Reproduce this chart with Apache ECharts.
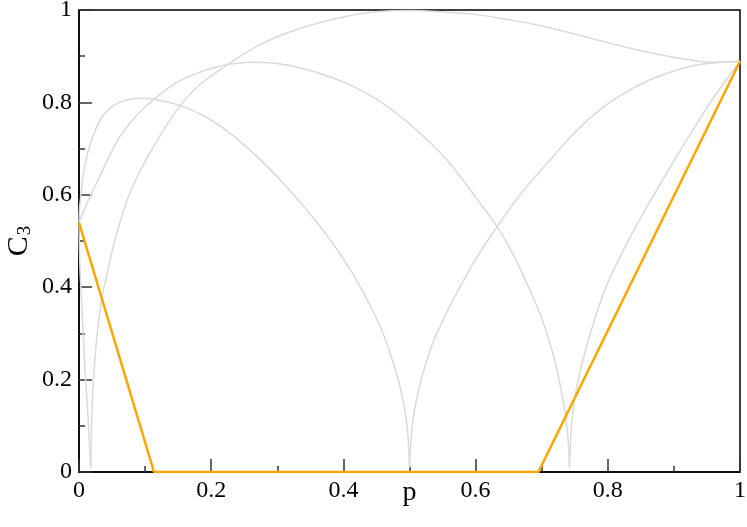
<!DOCTYPE html>
<html>
<head>
<meta charset="utf-8">
<script src="https://cdn.jsdelivr.net/npm/echarts@6/dist/echarts.min.js"></script>
<style>
  html, body { margin: 0; padding: 0; background: #fff; }
  #chart { width: 747px; height: 527px; }
</style>
</head>
<body>
<div id="chart"></div>
<script>
// values, [p, C3]
var curve1Left = [[0, 0.54], [0.001, 0.575], [0.003, 0.6], [0.0066, 0.645], [0.015, 0.70], [0.032, 0.762],
  [0.052, 0.793], [0.075, 0.806], [0.097, 0.809], [0.12, 0.805], [0.153, 0.793], [0.19, 0.77],
  [0.236, 0.725], [0.28, 0.668], [0.309, 0.625], [0.334, 0.585], [0.36, 0.54], [0.38, 0.503],
  [0.395, 0.472], [0.42, 0.415], [0.44, 0.362], [0.46, 0.30], [0.481, 0.21], [0.491, 0.15],
  [0.497, 0.09], [0.5, 0.01]]
var curve1Right = [[0.5, 0.01], [0.502, 0.068], [0.506, 0.12], [0.512, 0.165], [0.52, 0.212], [0.535, 0.278],
  [0.551, 0.33], [0.566, 0.373], [0.6, 0.46], [0.633, 0.532], [0.67, 0.605], [0.713, 0.676],
  [0.75, 0.735], [0.788, 0.784], [0.825, 0.82], [0.864, 0.849], [0.9, 0.868], [0.939, 0.882], [1, 0.889]]
var curve2Left = [[0, 0.54], [0.0015, 0.438], [0.004, 0.37], [0.009, 0.225], [0.014, 0.11], [0.0177, 0.01]]
var curve2Right = [[0.0177, 0.01], [0.02, 0.15], [0.022, 0.2], [0.027, 0.293], [0.035, 0.38], [0.044, 0.438],
  [0.054, 0.5], [0.072, 0.585], [0.09, 0.645], [0.107, 0.69], [0.13, 0.745], [0.153, 0.793],
  [0.18, 0.835], [0.218, 0.875], [0.274, 0.925], [0.334, 0.96], [0.4, 0.985], [0.45, 0.996],
  [0.5, 0.999], [0.55, 0.996], [0.602, 0.99], [0.65, 0.979], [0.702, 0.965], [0.75, 0.948],
  [0.798, 0.93], [0.84, 0.915], [0.879, 0.903], [0.92, 0.893], [0.96, 0.887], [1, 0.889]]
var curve3Left = [[0, 0.54], [0.01, 0.575], [0.029, 0.633], [0.059, 0.719], [0.08, 0.76], [0.1, 0.79],
  [0.125, 0.82], [0.15, 0.845], [0.18, 0.864], [0.218, 0.88], [0.264, 0.887], [0.3, 0.884],
  [0.334, 0.875], [0.37, 0.86], [0.41, 0.838], [0.45, 0.807], [0.486, 0.77], [0.52, 0.728],
  [0.56, 0.67], [0.6, 0.595], [0.633, 0.53], [0.66, 0.462], [0.69, 0.368], [0.702, 0.325],
  [0.72, 0.24], [0.733, 0.15], [0.738, 0.10], [0.741, 0.05], [0.742, 0.01]]
var curve3Right = [[0.742, 0.01], [0.745, 0.1], [0.75, 0.16], [0.76, 0.23], [0.78, 0.33], [0.8, 0.41],
  [0.84, 0.525], [0.88, 0.625], [0.92, 0.72], [0.96, 0.81], [1, 0.889]]
var lowerBound = [[0, 0.54], [0.1135, 0], [0.695, 0], [1, 0.889]]

var chart = echarts.init(document.getElementById('chart'))
var font = 'Liberation Serif'

function axisBase (position, showLabel, extra) {
  return Object.assign({
    type: 'value',
    position: position,
    min: 0,
    max: 1,
    interval: 0.2,
    axisLine: { show: true, lineStyle: { color: '#000', width: 1.5 } },
    axisTick: { show: true, inside: true, length: 13, lineStyle: { color: '#333', width: 1.5 } },
    minorTick: { show: true, splitNumber: 2, length: 6, lineStyle: { color: '#333', width: 1.5 } },
    splitLine: { show: false },
    axisLabel: { show: showLabel, color: '#000', fontFamily: font, fontSize: 24, margin: 7 }
  }, extra || {})
}

// second axis pair: kept so the tick rendering behaves, but invisible;
// the top/right frame comes from the grid border
function ghostAxis (position) {
  return axisBase(position, false, {
    axisLine: { show: true, lineStyle: { color: 'rgba(0,0,0,0)', width: 1.5 } },
    axisTick: { show: true, inside: true, length: 13, lineStyle: { color: 'rgba(0,0,0,0)', width: 1.5 } },
    minorTick: { show: true, splitNumber: 2, length: 6, lineStyle: { color: 'rgba(0,0,0,0)', width: 1.5 } }
  })
}

function grayLine (data) {
  return {
    type: 'line',
    data: data,
    smooth: 0.35,
    symbol: 'none',
    lineStyle: { color: '#dadada', width: 1.5 },
    silent: true,
    z: 2
  }
}

var opt = {
  animation: false,
  grid: {
    left: 79, right: 7, top: 10, bottom: 55,
    containLabel: false,
    outerBoundsMode: 'none',
    show: true,
    borderColor: '#000',
    borderWidth: 1.5,
    backgroundColor: 'rgba(0,0,0,0)'
  },
  xAxis: [
    axisBase('bottom', true, {
      name: 'p',
      nameLocation: 'middle',
      nameGap: 7,
      nameMoveOverlap: false,
      nameTextStyle: { color: '#000', fontFamily: font, fontSize: 28 }
    }),
    ghostAxis('top')
  ],
  yAxis: [
    axisBase('left', true, {
      name: '{c|C}{s|3}',
      nameLocation: 'middle',
      nameGap: 44,
      nameMoveOverlap: false,
      nameTextStyle: {
        color: '#000',
        fontFamily: font,
        rich: {
          c: { fontFamily: font, fontSize: 30, color: '#000', lineHeight: 32 },
          s: { fontFamily: font, fontSize: 19, color: '#000', lineHeight: 32, verticalAlign: 'bottom', padding: [11, 0, 0, 1] }
        }
      }
    }),
    ghostAxis('right')
  ],
  series: [
    grayLine(curve1Left),
    grayLine(curve1Right),
    grayLine(curve2Left),
    grayLine(curve2Right),
    grayLine(curve3Left),
    grayLine(curve3Right),
    {
      type: 'line',
      data: lowerBound,
      symbol: 'none',
      lineStyle: { color: '#ffa500', width: 2.5 },
      z: 3
    }
  ]
}

chart.setOption(opt, true)
window.addEventListener('resize', function () { chart.resize() })
</script>
</body>
</html>
